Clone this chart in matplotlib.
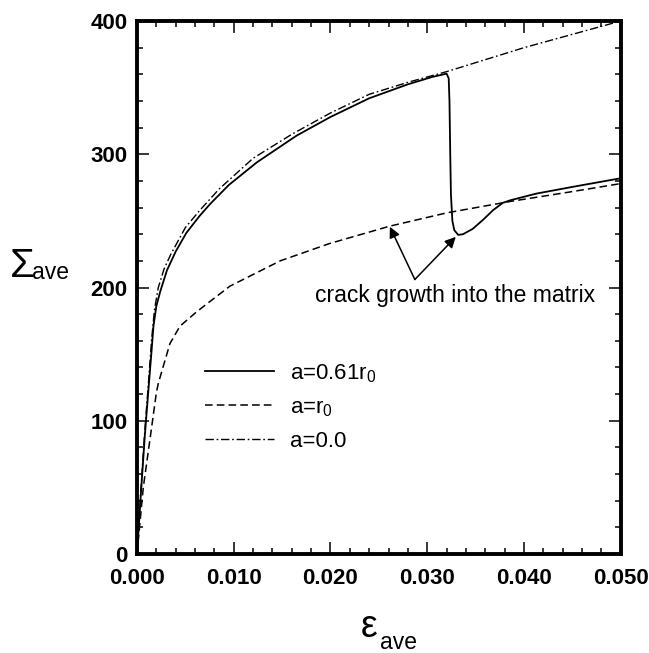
import matplotlib
matplotlib.use("Agg")
import matplotlib.pyplot as plt
from matplotlib.ticker import MultipleLocator, FormatStrFormatter

plt.rcParams['font.family'] = ['Liberation Sans', 'DejaVu Sans']
plt.rcParams['mathtext.fontset'] = 'custom'
plt.rcParams['mathtext.rm'] = 'Liberation Sans'

# a = 0.61 r0 (solid), with the drop when the crack grows into the matrix
eps_061 = [0, 0.0004, 0.0008, 0.0012, 0.0015, 0.0017, 0.0020, 0.0024, 0.0031,
           0.0040, 0.0051, 0.0065, 0.0076, 0.0095, 0.0124, 0.0165, 0.0200,
           0.0240, 0.0280, 0.0305, 0.0317, 0.0320, 0.03222, 0.0323, 0.03238,
           0.03245, 0.0326, 0.0328, 0.0332, 0.0337, 0.0347, 0.0358, 0.0368,
           0.0378, 0.0386, 0.0413, 0.0450, 0.0500]
sig_061 = [0, 45, 88, 125, 152, 171, 186, 197, 213,
           227, 241, 254, 263, 277, 294, 314, 328,
           342, 352.5, 358, 360, 360.5, 357, 340, 300,
           270, 250, 243, 239.5, 240, 244, 251, 258,
           263.5, 265.5, 270.5, 275.5, 282]

# a = r0 (dashed)
eps_r0 = [0, 0.00065, 0.00134, 0.0020, 0.0022, 0.00272, 0.00341, 0.00444,
          0.0062, 0.0096, 0.0148, 0.0199, 0.0261, 0.0320, 0.0385, 0.0450, 0.0500]
sig_r0 = [0, 50, 86, 121, 128, 141, 158, 171,
          182, 201, 220, 233, 246, 256, 264.5, 272, 278]

# a = 0.0 (dash-dot)
eps_00 = [0, 0.0004, 0.0008, 0.0012, 0.0015, 0.0018, 0.0022, 0.0028, 0.0035,
          0.0050, 0.0065, 0.0085, 0.0120, 0.0160, 0.0200, 0.0240, 0.0280,
          0.0320, 0.0360, 0.0400, 0.0450, 0.0500]
sig_00 = [0, 48, 92, 130, 160, 183, 200, 214, 225,
          245, 258, 274, 297, 315, 331, 345, 354,
          362, 371, 380, 390, 400]

labels = ['a=0.61r$_\\mathregular{0}$', 'a=r$_\\mathregular{0}$', 'a=0.0']
note = 'crack growth into the matrix'
note_from = (0.02872, 206)
note_tips = [(0.02614, 245.6), (0.03295, 238)]

fig = plt.figure(figsize=(6.49, 6.53), dpi=100)
ax = fig.add_axes([0.2111, 0.1516, 0.7453, 0.8162])

ax.plot(eps_061, sig_061, color='black', lw=1.3, label=labels[0])
ax.plot(eps_r0, sig_r0, color='black', lw=1.1, dashes=(5, 2.7), label=labels[1])
ax.plot(eps_00, sig_00, color='black', lw=1.0, dashes=(6, 2, 1.2, 2), label=labels[2])

ax.set_xlim(0, 0.05)
ax.set_ylim(0, 400)
ax.xaxis.set_major_locator(MultipleLocator(0.01))
ax.xaxis.set_minor_locator(MultipleLocator(0.002))
ax.yaxis.set_major_locator(MultipleLocator(100))
ax.yaxis.set_minor_locator(MultipleLocator(20))
ax.xaxis.set_major_formatter(FormatStrFormatter('%.3f'))
ax.tick_params(which='both', direction='in', top=True, right=True, width=1.1)
ax.tick_params(which='major', length=8.5)
ax.tick_params(which='minor', length=4.3)
ax.tick_params(axis='x', which='major', pad=10)
ax.tick_params(axis='y', which='major', pad=7)
for lab in ax.get_xticklabels() + ax.get_yticklabels():
    lab.set_fontsize(16)
    lab.set_fontweight('bold')
for sp in ax.spines.values():
    sp.set_linewidth(2.8)

for tip in note_tips:
    ax.annotate('', xy=tip, xytext=note_from,
                arrowprops=dict(arrowstyle='-|>', color='black', lw=1.1,
                                mutation_scale=16, shrinkA=0, shrinkB=0))
ax.text(0.0184, 189, note, fontsize=16.5, ha='left', va='baseline')

ax.legend(loc='upper left', bbox_to_anchor=(0.14, 0.36), frameon=False,
          fontsize=16, handlelength=3.1, handletextpad=0.75, labelspacing=0.55,
          borderpad=0, borderaxespad=0)

fig.text(10 / 649, 1 - 277 / 653, '\u03a3', fontsize=29, ha='left', va='baseline')
fig.text(32 / 649, 1 - 279 / 653, 'ave', fontsize=16.5, ha='left', va='baseline')
fig.text(361 / 649, 1 - 637 / 653, '\u03b5', fontsize=27, ha='left', va='baseline')
fig.text(380 / 649, 1 - 649 / 653, 'ave', fontsize=16.5, ha='left', va='baseline')

fig.savefig('out.png', dpi=100)
